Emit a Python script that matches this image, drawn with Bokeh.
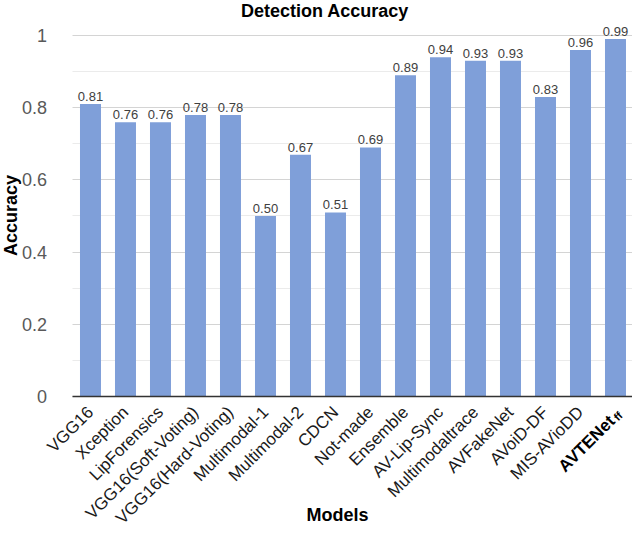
import math
from bokeh.plotting import figure
from bokeh.models import ColumnDataSource, LabelSet, Label, FixedTicker, Range1d
from bokeh.core.properties import value
from bokeh.embed import file_html
from bokeh.resources import INLINE

# ---- data ----
models = ["VGG16", "Xception", "LipForensics", "VGG16(Soft-Voting)", "VGG16(Hard-Voting)",
          "Multimodal-1", "Multimodal-2", "CDCN", "Not-made", "Ensemble", "AV-Lip-Sync",
          "Multimodaltrace", "AVFakeNet", "AVoiD-DF", "MIS-AVioDD", "AVTENet_ff"]
accuracy = [0.81, 0.76, 0.76, 0.78, 0.78, 0.50, 0.67, 0.51, 0.69, 0.89, 0.94,
            0.93, 0.93, 0.83, 0.96, 0.99]
value_labels = ["%.2f" % v for v in accuracy]
ytick_values = [0, 0.2, 0.4, 0.6, 0.8, 1]
ytick_labels = ["0", "0.2", "0.4", "0.6", "0.8", "1"]
yminor_values = [0.1, 0.3, 0.5, 0.7, 0.9]
title_text = "Detection Accuracy"
x_title = "Models"
y_title = "Accuracy"
special_main = "AVTENet"
special_sub = "ff"

FONT = "Liberation Sans"
# view window (layout): the frame covers the whole canvas, axes sit inside it
X_START, X_END = -2.571, 15.486
Y_TOP, Y_BOTTOM = 1.097, -0.363
BAR_LEFT = -0.5
BAR_RIGHT = len(models) - 0.5

positions = list(range(len(models)))
source = ColumnDataSource(dict(pos=positions, acc=accuracy, lbl=value_labels))

p = figure(x_range=Range1d(X_START, X_END), y_range=Range1d(Y_BOTTOM, Y_TOP),
           width=632, height=527, output_backend="svg", toolbar_location=None,
           min_border_left=0, min_border_right=0, min_border_top=0, min_border_bottom=0)
p.outline_line_color = None
p.background_fill_color = "white"
p.border_fill_color = "white"

p.vbar(x="pos", top="acc", width=0.6, source=source,
       fill_color="#7F9FD9", line_color=None)

p.add_layout(LabelSet(x="pos", y="acc", text="lbl", source=source, text_align="center",
                      text_baseline="bottom", y_offset=3, text_font=value(FONT),
                      text_font_size="13px", text_color="#404040"))

# y axis, fixed at the left edge of the bar area
yticker = FixedTicker(ticks=ytick_values, minor_ticks=yminor_values)
p.yaxis.fixed_location = BAR_LEFT
p.yaxis.ticker = yticker
p.ygrid.ticker = yticker
p.yaxis.major_label_overrides = {v: s for v, s in zip(ytick_values, ytick_labels)}
p.yaxis.axis_line_color = None
p.yaxis.major_tick_line_color = None
p.yaxis.minor_tick_line_color = None
p.yaxis.major_label_standoff = 20
p.yaxis.major_label_text_font = FONT
p.yaxis.major_label_text_font_size = "18px"
p.yaxis.major_label_text_color = "#595959"

p.ygrid.grid_line_color = "#D4D4D4"
p.ygrid.grid_line_width = 1.2
p.ygrid.minor_grid_line_color = "#EBEBEB"
p.ygrid.minor_grid_line_width = 1
for g in p.ygrid:
    if "cross_bounds" in g.properties():
        g.cross_bounds = (BAR_LEFT, BAR_RIGHT)
p.xgrid.grid_line_color = None

# x axis, fixed at y = 0
xlabels = {i: m for i, m in zip(positions, models)}
xlabels[positions[-1]] = " "
p.xaxis.fixed_location = 0
p.xaxis.bounds = (BAR_LEFT, BAR_RIGHT)
p.xaxis.ticker = FixedTicker(ticks=positions)
p.xaxis.major_label_overrides = xlabels
p.xaxis.major_label_orientation = math.pi / 4
p.xaxis.axis_line_color = "#333333"
p.xaxis.axis_line_width = 1.5
p.xaxis.major_tick_line_color = None
p.xaxis.minor_tick_line_color = None
p.xaxis.major_label_standoff = 7
p.xaxis.major_label_text_font = FONT
p.xaxis.major_label_text_font_size = "17px"
p.xaxis.major_label_text_color = "#1A1A1A"


def add_text(x, y, text, xo, yo, size, angle=0.0, align="center", baseline="middle"):
    p.add_layout(Label(x=x, y=y, text=text, x_offset=xo, y_offset=yo,
                       angle=angle, text_align=align, text_baseline=baseline,
                       text_font=FONT, text_font_size=size, text_font_style="bold",
                       text_color="#000000"))


# special bold tick label with subscript
add_text(positions[-1], 0, special_main, -3.5, -22, "17px", math.pi / 4, "right")
add_text(positions[-1], 0, special_sub, 5, -17, "11px", math.pi / 4, "right")

# titles
add_text(positions[7], Y_TOP, title_text, -10.5, 0, "18px", 0.0, "center", "top")
add_text(positions[7], 0, x_title, 2, -119, "18px")
add_text(BAR_LEFT, 0, y_title, -62, 181, "18px", math.pi / 2)

open("out.html", "w").write(file_html(p, INLINE))
